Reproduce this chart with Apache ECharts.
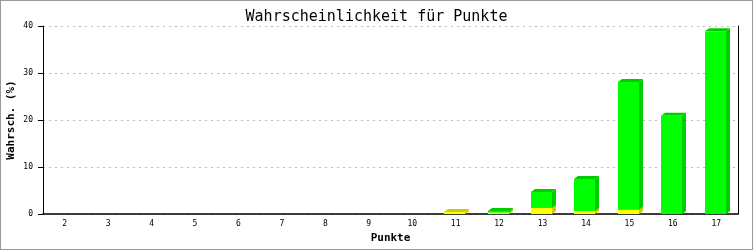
<!DOCTYPE html>
<html><head><meta charset="utf-8">
<script src="https://cdn.jsdelivr.net/npm/echarts@6/dist/echarts.min.js"></script>
<style>html,body{margin:0;padding:0;background:#fff}#c{width:753px;height:250px;box-sizing:border-box;border:1px solid #999}</style>
</head><body><div id="c"></div>
<script>
const categories = ['2','3','4','5','6','7','8','9','10','11','12','13','14','15','16','17'];
const yellowValues = [0,0,0,0,0,0,0,0,0,0.45,0.3,1.3,0.65,0.9,0,0];
const greenValues  = [0,0,0,0,0,0,0,0,0,0,0.35,3.4,6.8,27.2,20.9,38.9];
const yTicks = [0,10,20,30,40];

const chart = echarts.init(document.getElementById('c'), null, {renderer:'canvas'});
const BW = 21, DX = 4, DY = 3;
function make3D(baseArr, valArr, front, side){
  return function(params, api){
    const i = api.value(0);
    const base = baseArr[i], v = valArr[i];
    if (v <= 0) return null;
    const p0 = api.coord([i, base]);
    const p1 = api.coord([i, base + v]);
    const x = Math.round(p0[0] - BW/2 - 1), yb = p0[1], yt = p1[1];
    return {type:'group', children:[
      {type:'polygon', shape:{points:[[x+BW,yb],[x+BW+DX,yb-DY],[x+BW+DX,yt-DY],[x+BW,yt]]}, style:{fill:side}},
      {type:'polygon', shape:{points:[[x,yt],[x+DX,yt-DY],[x+BW+DX,yt-DY],[x+BW,yt]]}, style:{fill:side}},
      {type:'rect', shape:{x:x, y:yt, width:BW, height:yb-yt}, style:{fill:front}}
    ]};
  };
}
const base0 = yellowValues.map(()=>0);
const idx = categories.map((c,i)=>[i]);
chart.setOption({
  animation:false,
  title:{text:'Wahrscheinlichkeit für Punkte', left:'center', top:4,
    textStyle:{fontFamily:'DejaVu Sans Mono', fontSize:15, fontWeight:'normal', color:'#000'}},
  grid:{left:42, right:14, top:25, bottom:35, containLabel:false, outerBoundsMode:'none'},
  xAxis:{type:'category', data:categories, name:'Punkte', nameLocation:'middle', nameGap:19, nameMoveOverlap:false,
    nameTextStyle:{fontFamily:'DejaVu Sans Mono', fontWeight:'bold', fontSize:11, color:'#000'},
    axisLine:{lineStyle:{color:'#000', width:1.5}}, axisTick:{show:false},
    axisLabel:{fontFamily:'DejaVu Sans Mono', fontSize:8, color:'#000', margin:6}},
  yAxis:[{type:'value', min:yTicks[0], max:yTicks[yTicks.length-1], interval:10,
    name:'Wahrsch. (%)', nameLocation:'middle', nameGap:26, nameMoveOverlap:false,
    nameTextStyle:{fontFamily:'DejaVu Sans Mono', fontWeight:'bold', fontSize:11, color:'#000'},
    axisLine:{show:true, lineStyle:{color:'#000', width:1}},
    axisTick:{show:true, length:5, lineStyle:{color:'#000'}},
    axisLabel:{fontFamily:'DejaVu Sans Mono', fontSize:8, color:'#000', margin:10},
    splitLine:{lineStyle:{color:'#bbb', type:[2,4]}}},
   {type:'value', position:'right', min:0, max:40, interval:10,
    axisLine:{show:true, lineStyle:{color:'#000'}}, axisTick:{show:false}, axisLabel:{show:false}, splitLine:{show:false}}],
  series:[
    {type:'custom', data:idx, renderItem:make3D(base0, yellowValues, '#ffff00', '#cccc00'), encode:{x:0}},
    {type:'custom', data:idx, renderItem:make3D(yellowValues, greenValues, '#00ff00', '#00cc00'), encode:{x:0}}
  ]
});
</script></body></html>
